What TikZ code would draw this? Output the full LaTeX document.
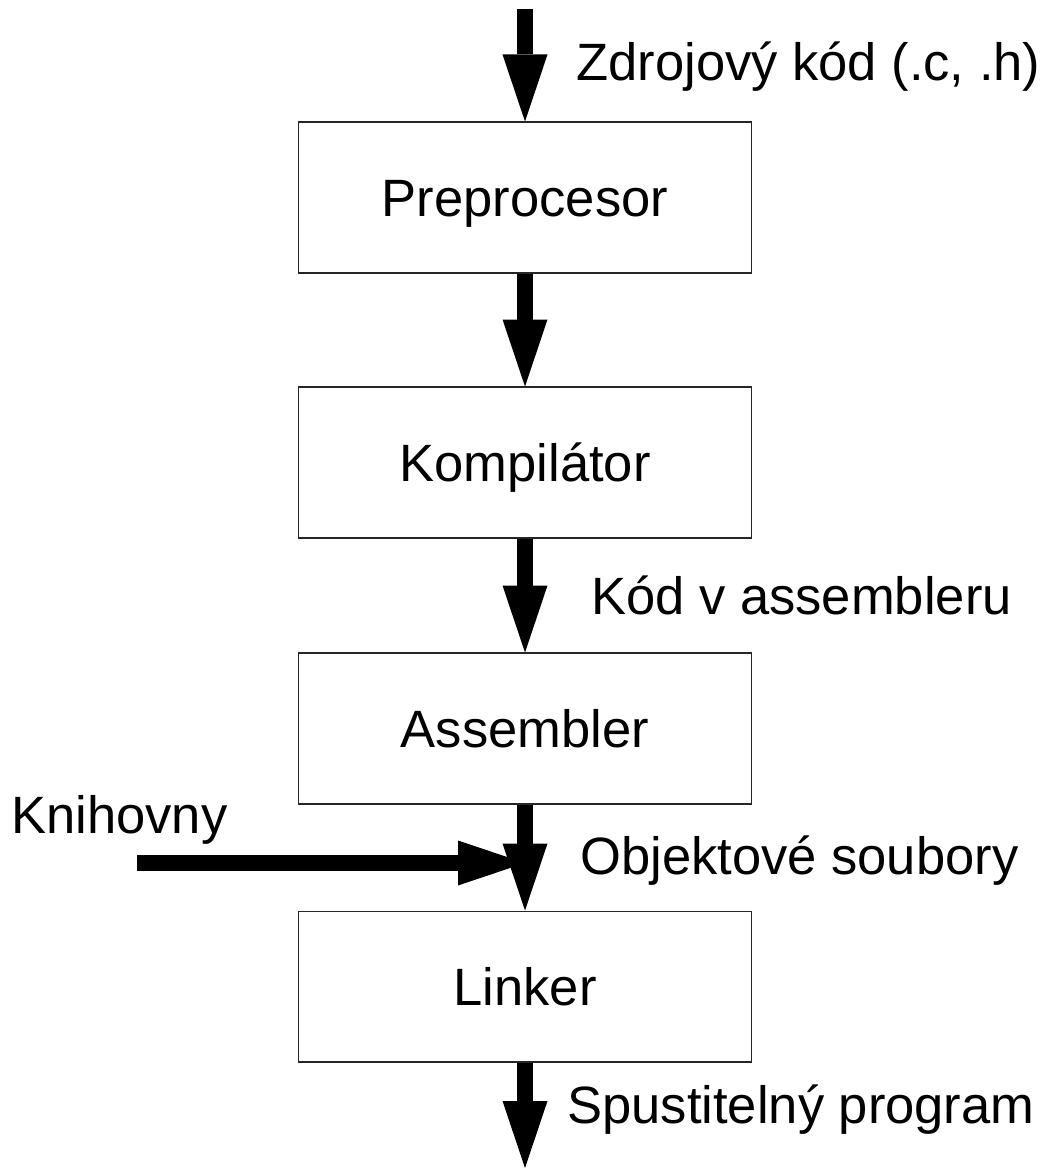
\documentclass[tikz,border=0pt]{standalone}
\usepackage{fontspec}
\setmainfont{Liberation Sans}
\usetikzlibrary{positioning,arrows.meta}

\begin{document}
\begin{tikzpicture}[
    x=0.02cm, y=-0.02cm,
    node distance=2.26cm,
    stage/.style={draw=black!85, line width=0.6pt, minimum width=9.08cm,
        minimum height=3.02cm, inner sep=0pt, text height=0.75cm, text depth=0pt,
        font=\fontsize{29.9}{36}\selectfont},
    lbl/.style={anchor=base west, inner sep=0pt, font=\fontsize{29.9}{36}\selectfont},
    flow/.style={line width=0.32cm,
        -{Triangle[width=0.9cm, length=1.34cm, line width=0pt]}}
]
\useasboundingbox (0,0) rectangle (1043,1175);

% ---- Translation stages ----
\node[stage] (pre) at (525,197.5) {Preprocesor};
\node[stage, below=2.26cm of pre] (komp) {Kompilátor};
\node[stage, below=2.28cm of komp] (asm) {Assembler};
\node[stage, below=2.12cm of asm] (link) {Linker};

% ---- Free ends ----
\coordinate (src) at (525,9);
\coordinate (out) at (525,1168);
\coordinate (libstart) at (137,863);
\coordinate (libend) at (525,863);

% ---- Flow labels ----
\node[lbl] (srclbl) at (576,81) {Zdrojový kód (.c, .h)};
\node[lbl] (asmlbl) at (591,614) {Kód v assembleru};
\node[lbl] (objlbl) at (580,874) {Objektové soubory};
\node[lbl] (outlbl) at (567,1123) {Spustitelný program};
\node[lbl] (liblbl) at (11,833) {Knihovny};

% Main flow
\draw[flow] (src) -- (pre);
\draw[flow] (pre) -- (komp);
\draw[flow] (komp) -- (asm);

% Libraries join the object files
\draw[flow] (libstart) -- (libend);
\draw[flow] (asm) -- (link);

\draw[flow] (link) -- (out);
\end{tikzpicture}
\end{document}
